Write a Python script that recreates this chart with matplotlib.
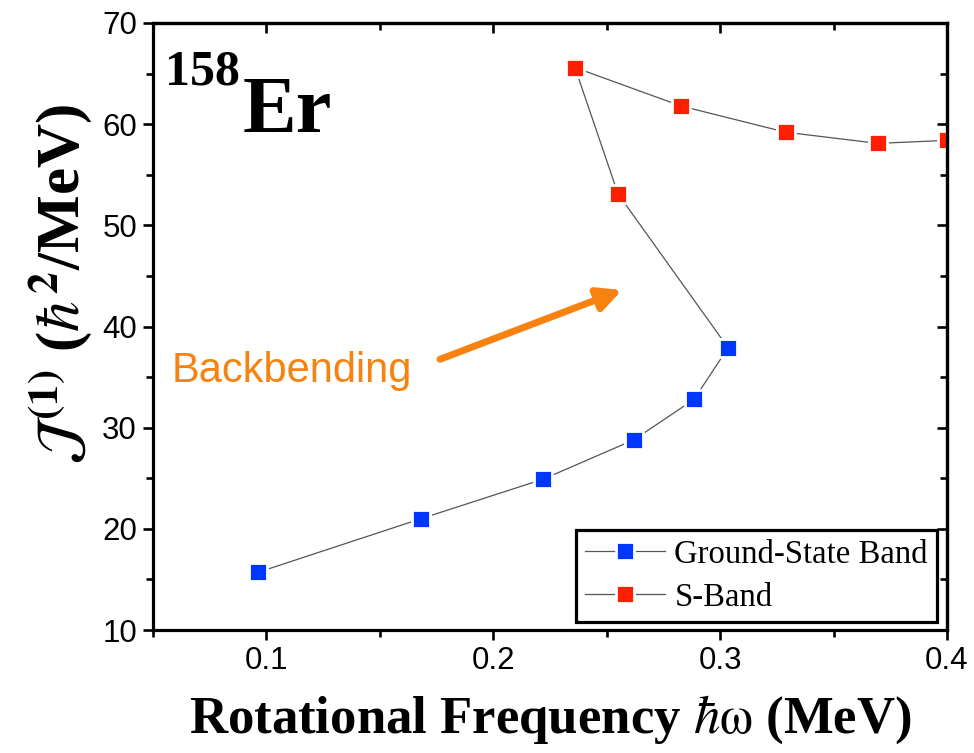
import matplotlib
matplotlib.use("Agg")
import matplotlib.pyplot as plt
from matplotlib.lines import Line2D
from matplotlib.ticker import MultipleLocator

# Kinematic moment of inertia of 158Er vs rotational frequency
gsb_w = [0.0963, 0.1681, 0.2219, 0.2620, 0.2885, 0.3035]
gsb_J = [15.7, 21.0, 24.9, 28.8, 32.8, 37.9]
sb_w = [0.2550, 0.2360, 0.2827, 0.3290, 0.3696, 0.4000]
sb_J = [53.1, 65.6, 61.8, 59.2, 58.1, 58.4]

series_names = ["Ground-State Band", "S-Band"]
x_ticks = [0.1, 0.2, 0.3, 0.4]
x_tick_labels = ["0.1", "0.2", "0.3", "0.4"]
y_ticks = [10, 20, 30, 40, 50, 60, 70]

BLUE = "#0037FF"
RED = "#FF1E00"
LINE = "#555555"
ORANGE = "#F7820F"

plt.rcParams["mathtext.fontset"] = "stix"

fig = plt.figure(figsize=(9.74, 7.53), dpi=100)
ax = fig.add_axes([153 / 974, 1 - 630 / 753, 794 / 974, 607 / 753])

mk = dict(marker="s", markersize=13.5, markeredgecolor="white",
          markeredgewidth=2.0, linestyle="none", zorder=3)

# connecting lines (drawn below the markers)
ax.plot(gsb_w, gsb_J, color=LINE, lw=0.9, zorder=2)
ax.plot([gsb_w[-1], sb_w[0]], [gsb_J[-1], sb_J[0]], color=LINE, lw=0.9, zorder=2)
ax.plot(sb_w, sb_J, color=LINE, lw=0.9, zorder=2)
# markers
ax.plot(gsb_w, gsb_J, markerfacecolor=BLUE, **mk)
ax.plot(sb_w, sb_J, markerfacecolor=RED, **mk)

ax.set_xlim(0.05, 0.4)
ax.set_ylim(10, 70)
ax.set_xticks(x_ticks)
ax.set_xticklabels(x_tick_labels)
ax.set_yticks(y_ticks)
ax.xaxis.set_minor_locator(MultipleLocator(0.05))
ax.yaxis.set_minor_locator(MultipleLocator(5))

for lab in ax.get_xticklabels() + ax.get_yticklabels():
    lab.set_fontfamily("Liberation Sans")
    lab.set_fontsize(22.5)

ax.tick_params(which="major", direction="out", length=7.5, width=1.9, pad=4)
ax.tick_params(which="minor", direction="out", length=5, width=1.9)
for s in ax.spines.values():
    s.set_linewidth(2.3)
    s.set_zorder(5)

# mirrored ticks pointing inward on top and right
top = ax.secondary_xaxis("top")
top.set_xticks(x_ticks)
top.xaxis.set_minor_locator(MultipleLocator(0.05))
top.tick_params(which="major", direction="in", length=7.5, width=1.9, labeltop=False)
top.tick_params(which="minor", direction="in", length=5, width=1.9)
top.spines["top"].set_linewidth(2.3)
right = ax.secondary_yaxis("right")
right.set_yticks(y_ticks)
right.yaxis.set_minor_locator(MultipleLocator(5))
right.tick_params(which="major", direction="in", length=7.5, width=1.9, labelright=False)
right.tick_params(which="minor", direction="in", length=5, width=1.9)
right.spines["right"].set_linewidth(2.3)

# axis titles
fig.text(550 / 974, 1 - 720 / 753,
         r"Rotational Frequency $\hbar\mathrm{\omega}$ (MeV)",
         family="Liberation Serif", weight="bold", size=38,
         ha="center", va="center")
fig.text(60 / 974, 1 - 284 / 753,
         r"$\mathcal{J}^{\,\mathbf{(1)}}$ ($\hbar^{\mathbf{2}}$/MeV)",
         family="Liberation Serif", weight="bold", size=44,
         rotation=90, ha="center", va="center")

# nucleus label
ax.text(0.0151, 0.8995, "158", transform=ax.transAxes, family="Liberation Serif",
        weight="bold", size=36, ha="left", va="baseline")
ax.text(0.113, 0.820, "Er", transform=ax.transAxes, family="Liberation Serif",
        weight="bold", size=58, ha="left", va="baseline")

# backbending annotation
ax.text(0.0239, 0.4086, "Backbending", transform=ax.transAxes,
        family="Liberation Sans", size=30, color=ORANGE, ha="left", va="baseline")
ax.annotate("", xy=(0.5907, 0.5601), xytext=(0.3615, 0.4460),
            xycoords="axes fraction", textcoords="axes fraction",
            arrowprops=dict(arrowstyle="-|>,head_length=1.4,head_width=0.7",
                            color=ORANGE, lw=5, shrinkA=0, shrinkB=0))

# legend
handles = [
    Line2D([], [], color=LINE, lw=0.9, marker="s", markersize=13.5,
           markerfacecolor=BLUE, markeredgecolor="white", markeredgewidth=2.0),
    Line2D([], [], color=LINE, lw=0.9, marker="s", markersize=13.5,
           markerfacecolor=RED, markeredgecolor="white", markeredgewidth=2.0),
]
leg = ax.legend(handles, series_names, loc="lower right",
                bbox_to_anchor=(0.9874, 0.0132), borderaxespad=0,
                prop=dict(family="Liberation Serif", size=23.6),
                handlelength=2.45, handletextpad=0.27, labelspacing=0.38,
                borderpad=0.28, fancybox=False, framealpha=1)
leg.get_frame().set_edgecolor("black")
leg.get_frame().set_linewidth(2.3)
leg.set_zorder(6)

fig.savefig("out.png", dpi=100)
